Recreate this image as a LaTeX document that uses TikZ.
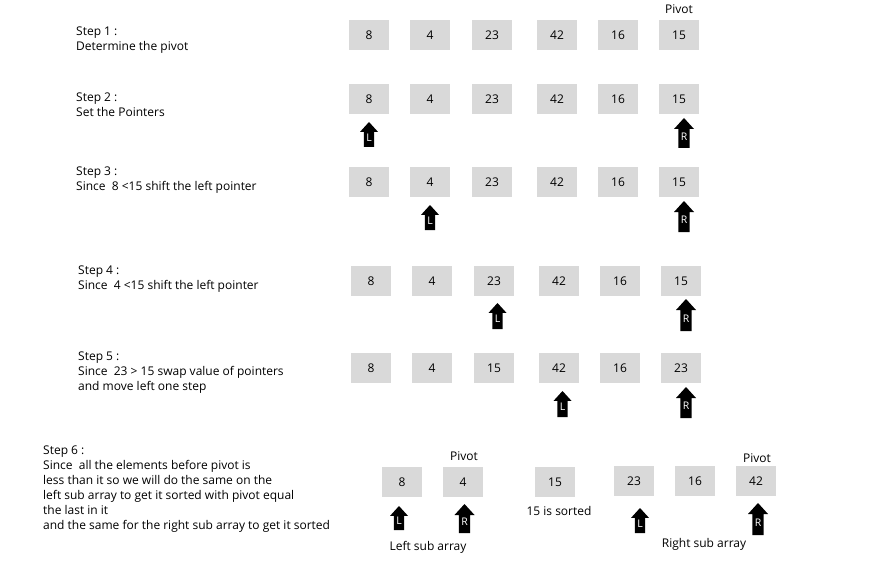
\documentclass[tikz,border=0pt]{standalone}
\usepackage{fontspec}
\setmainfont{Open Sans}
\definecolor{cellgray}{HTML}{D9D9D9}
\tikzset{
  cell/.style={fill=cellgray, minimum width=40pt, minimum height=30pt, inner sep=0pt, font=\fontsize{12}{14}\selectfont},
  lbl/.style={font=\fontsize{12}{14}\selectfont, inner sep=0pt},
  steptext/.style={font=\fontsize{12}{15}\selectfont, align=left, anchor=north west, inner sep=0pt},
  ptrletter/.style={text=white, font=\fontsize{10.5}{11}\selectfont, inner sep=0pt}
}
\newcommand\ptrarrow[6]{%
  \fill[black] (#2,#3) -- ({#2+#5},{#3+1.1*#5}) -- ({#2+0.56*#5},{#3+1.1*#5}) -- ({#2+0.56*#5},#4)
    -- ({#2-0.56*#5},#4) -- ({#2-0.56*#5},{#3+1.1*#5}) -- ({#2-#5},{#3+1.1*#5}) -- cycle;
  \node[ptrletter] (#1) at (#2,{(#3+1.1*#5+#4)/2-2}) {#6};
}
\begin{document}
\begin{tikzpicture}[x=1pt,y=-1pt]
\useasboundingbox (0,0) rectangle (878,575);
% step texts
\node[steptext] (s1) at (76,27) {Step 1 :\\Determine the pivot};
\node[steptext] (s2) at (76,93) {Step 2 :\\Set the Pointers};
\node[steptext] (s3) at (76,167) {Step 3 :\\Since\ \ 8 <15 shift the left pointer};
\node[steptext] (s4) at (78,266) {Step 4 :\\Since\ \ 4 <15 shift the left pointer};
\node[steptext] (s5) at (78,352) {Step 5 :\\Since\ \ 23 > 15 swap value of pointers\\and move left one step};
\node[steptext] (s6) at (43,446) {Step 6 :\\Since\ \ all the elements before pivot is\\less than it so we will do the same on the\\left sub array to get it sorted with pivot equal\\the last in it\\and the same for the right sub array to get it sorted};
% row 1
\node[lbl] (p1) at (679,9) {Pivot};
\node[cell] (r1a) at (369,35) {8};
\node[cell] (r1b) at (430,35) {4};
\node[cell] (r1c) at (492,35) {23};
\node[cell] (r1d) at (557,35) {42};
\node[cell] (r1e) at (618,35) {16};
\node[cell] (r1f) at (679,35) {15};
% row 2
\node[cell] (r2a) at (369,99) {8};
\node[cell] (r2b) at (430,99) {4};
\node[cell] (r2c) at (492,99) {23};
\node[cell] (r2d) at (557,99) {42};
\node[cell] (r2e) at (618,99) {16};
\node[cell] (r2f) at (679,99) {15};
\ptrarrow{a2l}{369}{122}{147}{9}{L}
\ptrarrow{a2r}{684}{118}{148}{10}{R}
% row 3
\node[cell] (r3a) at (369,182) {8};
\node[cell] (r3b) at (430,182) {4};
\node[cell] (r3c) at (492,182) {23};
\node[cell] (r3d) at (557,182) {42};
\node[cell] (r3e) at (618,182) {16};
\node[cell] (r3f) at (679,182) {15};
\ptrarrow{a3l}{430}{205}{230}{9}{L}
\ptrarrow{a3r}{684}{201}{232}{10}{R}
% row 4
\node[cell] (r4a) at (371,281) {8};
\node[cell] (r4b) at (432,281) {4};
\node[cell] (r4c) at (494,281) {23};
\node[cell] (r4d) at (559,281) {42};
\node[cell] (r4e) at (620,281) {16};
\node[cell] (r4f) at (681,281) {15};
\ptrarrow{a4l}{497.5}{303}{329}{9}{L}
\ptrarrow{a4r}{686}{299}{331}{10}{R}
% row 5
\node[cell] (r5a) at (371,368) {8};
\node[cell] (r5b) at (432,368) {4};
\node[cell] (r5c) at (494,368) {15};
\node[cell] (r5d) at (559,368) {42};
\node[cell] (r5e) at (620,368) {16};
\node[cell] (r5f) at (681,368) {23};
\ptrarrow{a5l}{562.5}{391}{417}{9}{L}
\ptrarrow{a5r}{686}{387}{418}{10}{R}
% row 6
\node[lbl] (p6l) at (464,456) {Pivot};
\node[cell] (r6a) at (402,482) {8};
\node[cell] (r6b) at (463,482) {4};
\ptrarrow{a6l}{399}{506}{530}{9}{L}
\ptrarrow{a6r}{464.5}{504}{533}{10}{R}
\node[lbl] (lsa) at (428,547) {Left sub array};
\node[cell] (r6c) at (555,482) {15};
\node[lbl] (srt) at (559,511) {15 is sorted};
\node[lbl] (p6r) at (757,458) {Pivot};
\node[cell] (r6d) at (634,481) {23};
\node[cell] (r6e) at (695,481) {16};
\node[cell] (r6f) at (756,481) {42};
\ptrarrow{a6l2}{640}{508}{533}{9}{L}
\ptrarrow{a6r2}{758}{503}{535}{10}{R}
\node[lbl] (rsa) at (704,544) {Right sub array};
\end{tikzpicture}
\end{document}
